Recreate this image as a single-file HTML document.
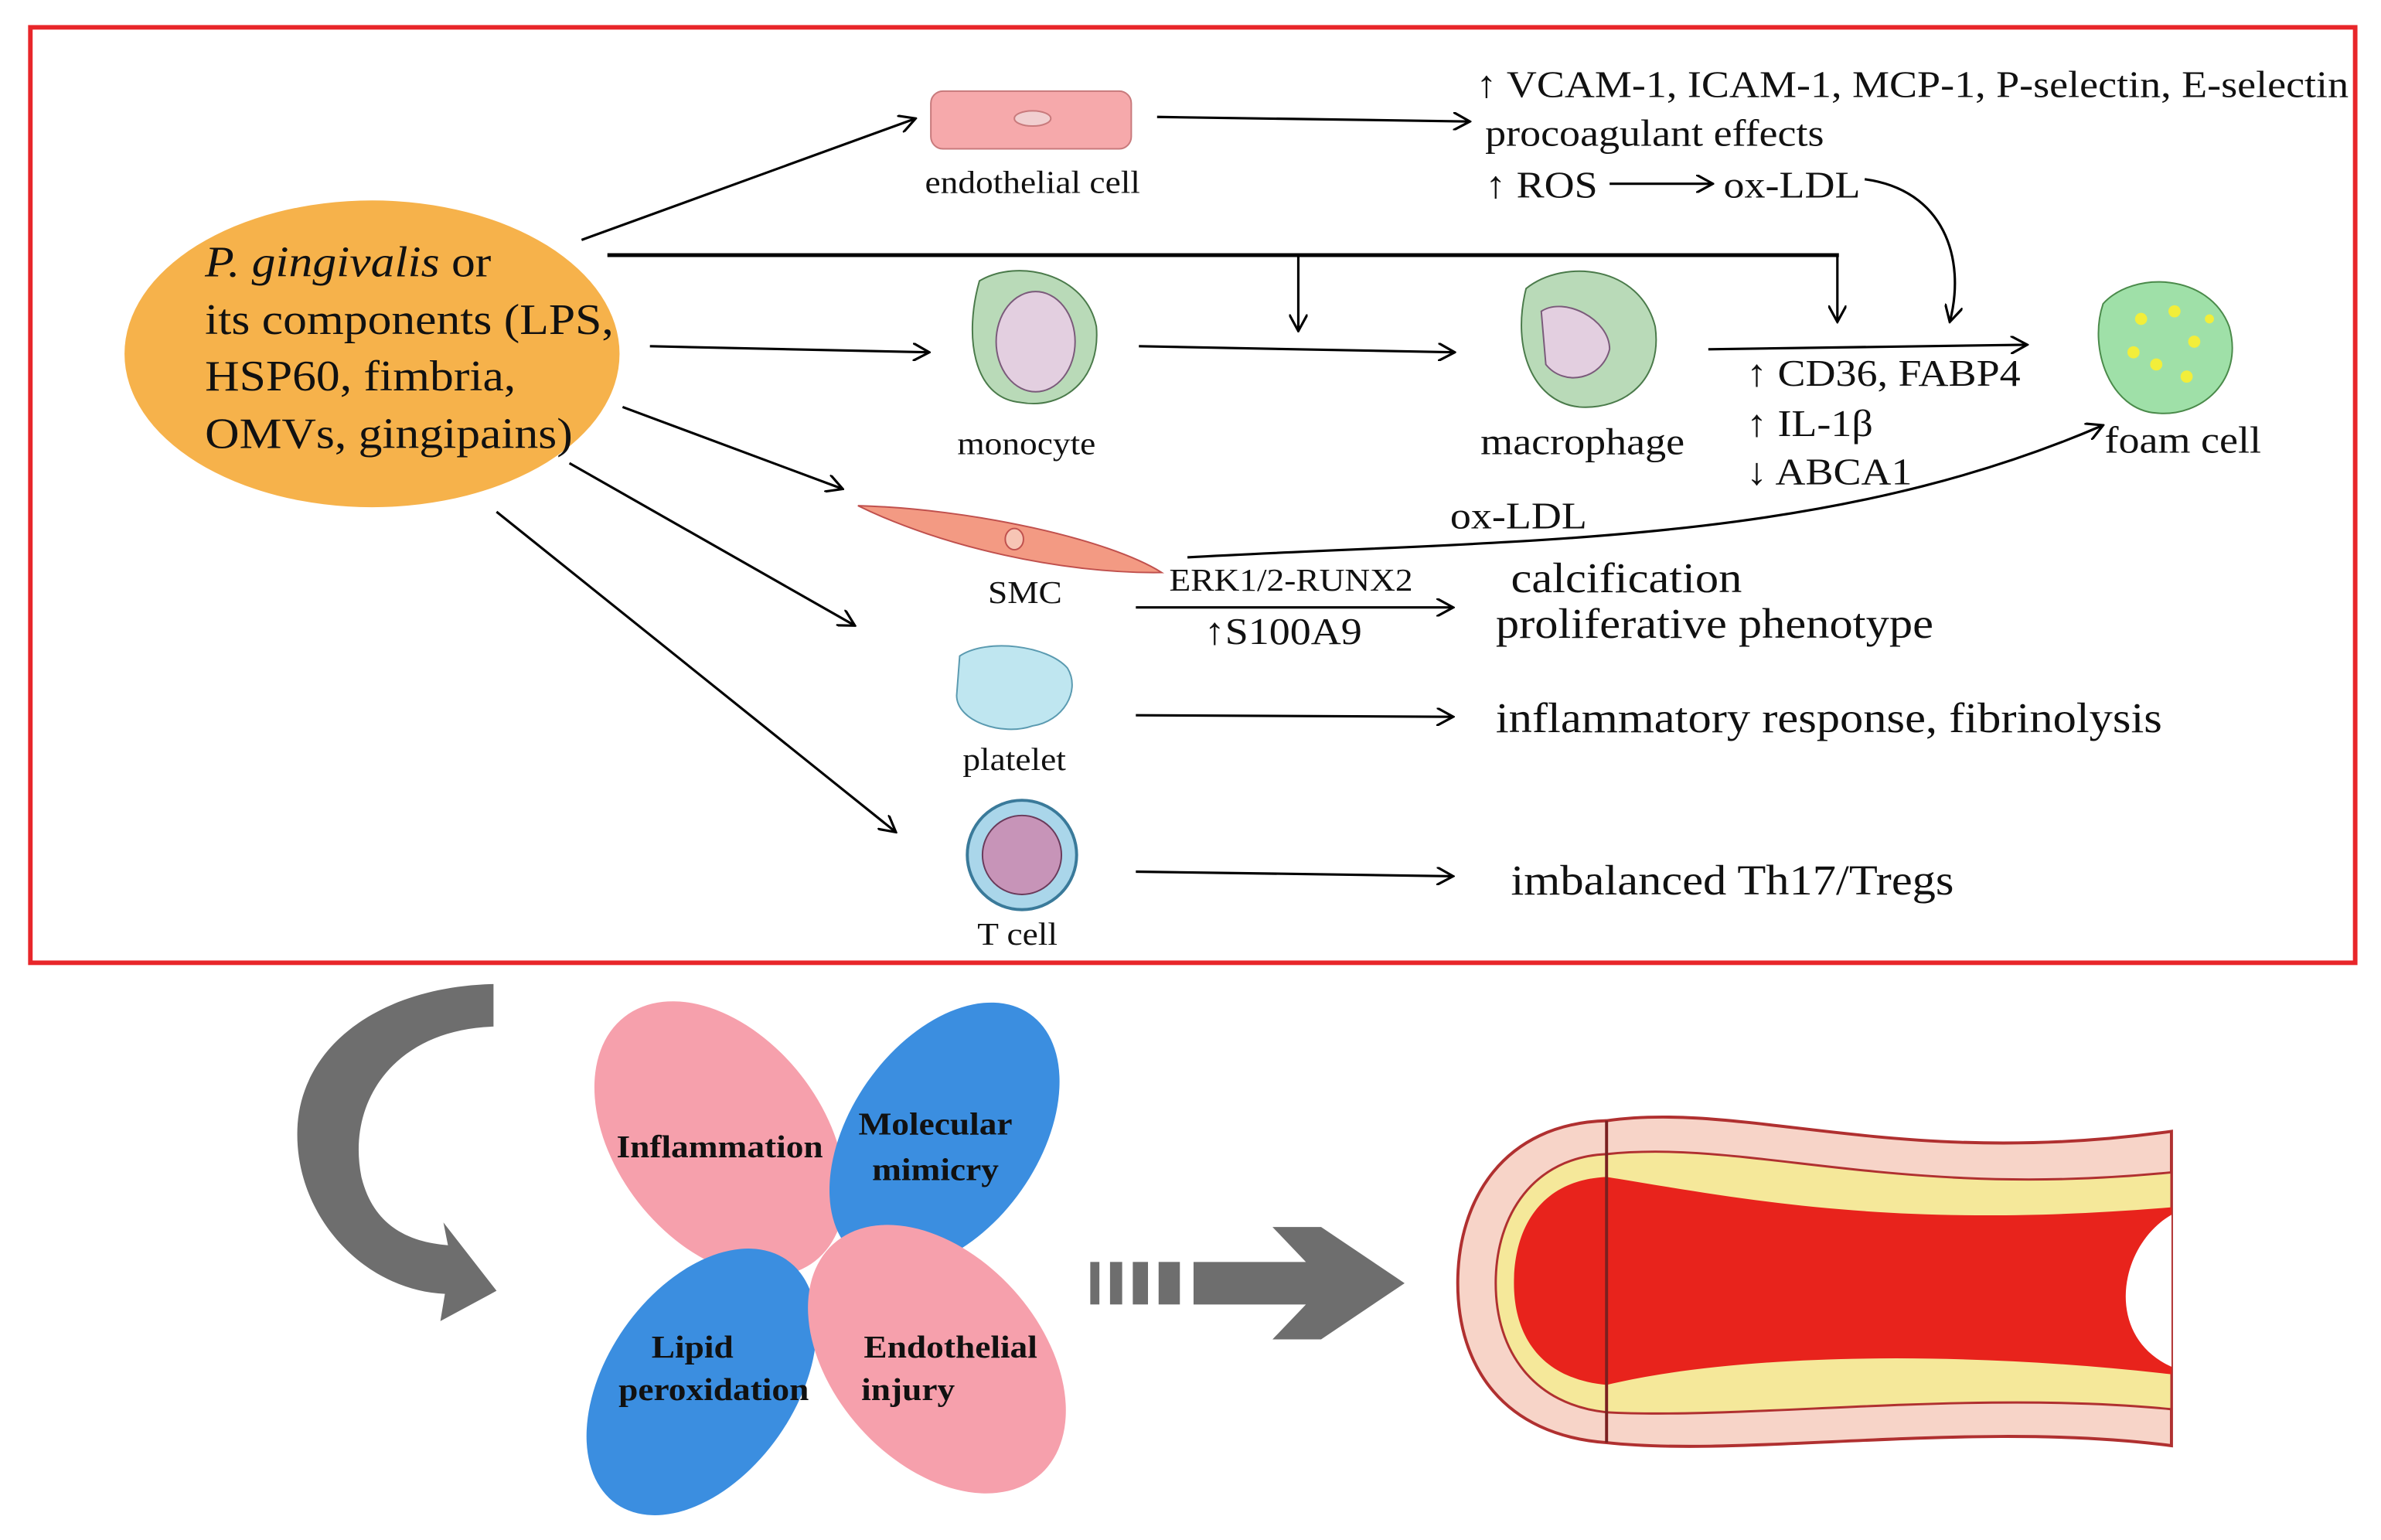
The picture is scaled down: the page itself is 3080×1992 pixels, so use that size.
<!DOCTYPE html>
<html><head><meta charset="utf-8"><style>
html,body{margin:0;padding:0;background:#fff}
#w{position:absolute;left:0;top:0;width:1568px;height:1014px;transform:scale(1.96429);transform-origin:0 0}
svg{position:absolute;left:0;top:0}
.t{position:absolute;font-family:"Liberation Serif",serif;color:#111;line-height:1;white-space:nowrap;transform:scaleX(1.1);transform-origin:0 0}
.c{transform:translateX(-50%) scaleX(1.1);transform-origin:50% 0}
.s20{font-size:21px}.s24{font-size:25px}.s26{font-size:28px}.s27{font-size:28.5px}
.b{font-weight:bold;font-size:21px}
</style></head><body>
<div id="w">
<svg width="1568" height="1014" viewBox="0 0 1568 1014" xmlns="http://www.w3.org/2000/svg">
<defs>
<marker id="a" markerWidth="12" markerHeight="12" refX="11" refY="6" orient="auto" markerUnits="userSpaceOnUse"><path d="M0,0 L11,6 L0,12" fill="none" stroke="#000" stroke-width="1.6"/></marker>
</defs>
<rect x="20" y="18" width="1531" height="616" fill="none" stroke="#e8262a" stroke-width="3"/>
<ellipse cx="245" cy="233" rx="163" ry="101" fill="#f6b24b"/>
<g stroke="#000" stroke-width="1.6" fill="none" marker-end="url(#a)">
<line x1="383" y1="158" x2="603" y2="78"/>
<line x1="762" y1="77" x2="968" y2="80"/>
<line x1="1060" y1="121" x2="1128" y2="121"/>
<path d="M1228,118 C1280,125 1295,170 1284,212"/>
<line x1="855" y1="168" x2="855" y2="218"/>
<line x1="1210" y1="168" x2="1210" y2="212"/>
<line x1="428" y1="228" x2="612" y2="232"/>
<line x1="750" y1="228" x2="958" y2="232"/>
<line x1="1125" y1="230" x2="1335" y2="227"/>
<path d="M782,367 C1000,355 1200,360 1385,280"/>
<line x1="410" y1="268" x2="555" y2="322"/>
<line x1="375" y1="305" x2="563" y2="412"/>
<line x1="327" y1="337" x2="590" y2="548"/>
<line x1="748" y1="400" x2="957" y2="400"/>
<line x1="748" y1="471" x2="957" y2="472"/>
<line x1="748" y1="574" x2="957" y2="577"/>
</g>
<line x1="400" y1="168" x2="1211" y2="168" stroke="#000" stroke-width="2.5"/>
<rect x="613" y="60" width="132" height="38" rx="8" fill="#f6a9ab" stroke="#c87a7c"/>
<ellipse cx="680" cy="78" rx="12" ry="5" fill="#f1cfd0" stroke="#c87a7c"/>
<path d="M645,185 C670,170 715,180 722,215 C725,250 700,270 672,265 C640,262 635,220 645,185Z" fill="#b9dab8" stroke="#4a7a4a"/>
<ellipse cx="682" cy="225" rx="26" ry="33" fill="#e3cfe0" stroke="#7a5a7a"/>
<path d="M1005,190 C1030,170 1080,175 1090,215 C1095,250 1070,270 1040,268 C1010,265 995,230 1005,190Z" fill="#b9dab8" stroke="#4a7a4a"/>
<path d="M1015,205 C1030,195 1060,210 1060,230 C1055,250 1030,255 1018,240Z" fill="#e3cfe0" stroke="#7a5a7a"/>
<path d="M1385,200 C1405,178 1455,180 1468,215 C1478,250 1450,275 1420,272 C1390,270 1375,230 1385,200Z" fill="#9fe0a8" stroke="#4a8a4a"/>
<g fill="#f2ee3a"><circle cx="1410" cy="210" r="4"/><circle cx="1432" cy="205" r="4"/><circle cx="1445" cy="225" r="4"/><circle cx="1420" cy="240" r="4"/><circle cx="1440" cy="248" r="4"/><circle cx="1405" cy="232" r="4"/><circle cx="1455" cy="210" r="3"/></g>
<path d="M565,333 C640,335 730,355 765,377 C700,378 620,360 565,333Z" fill="#f39a83" stroke="#c0504d"/>
<ellipse cx="668" cy="355" rx="6" ry="7" fill="#f7c5b5" stroke="#c0504d"/>
<path d="M632,432 C650,420 690,425 703,440 C712,455 700,475 680,478 C660,485 630,475 630,458Z" fill="#bfe6f0" stroke="#5a9ab0"/>
<circle cx="673" cy="563" r="36" fill="#aad6ea" stroke="#3a7a9a" stroke-width="2"/>
<circle cx="673" cy="563" r="26" fill="#c794b8" stroke="#6a3a5a"/>
<path d="M325,648 L325,676 C260,678 228,725 238,775 C246,808 270,818 295,820 L292,805 L327,850 L290,870 L293,852 C240,850 192,800 196,740 C200,688 250,650 325,648Z" fill="#6e6e6e"/>
<ellipse cx="474" cy="750" rx="68" ry="102" transform="rotate(-38 474 750)" fill="#f6a0ac"/>
<ellipse cx="622" cy="748" rx="62" ry="98" transform="rotate(35 622 748)" fill="#3b8ee0"/>
<ellipse cx="462" cy="910" rx="62" ry="98" transform="rotate(35 462 910)" fill="#3b8ee0"/>
<ellipse cx="617" cy="895" rx="68" ry="102" transform="rotate(-42 617 895)" fill="#f6a0ac"/>
<g fill="#6e6e6e">
<rect x="718" y="831" width="6" height="28"/><rect x="731" y="831" width="8" height="28"/><rect x="746" y="831" width="10" height="28"/><rect x="763" y="831" width="14" height="28"/>
<path d="M786,831 L860,831 L838,808 L870,808 L925,845 L870,882 L838,882 L860,859 L786,859Z"/>
</g>
<path d="M1058,738 C1150,725 1250,770 1430,745 L1430,952 C1300,935 1150,960 1058,950 C990,945 960,900 960,845 C960,790 990,740 1058,738Z" fill="#f7d4c8" stroke="#b03030" stroke-width="2"/>
<path d="M1058,760 C1150,750 1250,790 1430,772 L1430,928 C1300,915 1150,935 1058,930 C1010,925 985,890 985,845 C985,800 1010,762 1058,760Z" fill="#f5e89a" stroke="#b03030" stroke-width="1.5"/>
<path d="M1058,775 C1150,790 1250,810 1430,795 L1430,905 C1300,890 1150,890 1058,912 C1015,908 997,880 997,845 C997,808 1015,777 1058,775Z" fill="#e8231c"/>
<path d="M1430,800 C1395,820 1385,880 1430,900Z" fill="#fff"/>
<line x1="1058" y1="738" x2="1058" y2="950" stroke="#7a2020" stroke-width="2"/>
</svg>

<div class="t s27" style="left:135px;top:160px"><i>P. gingivalis</i> or</div>
<div class="t s27" style="left:135px;top:198px">its components (LPS,</div>
<div class="t s27" style="left:135px;top:235px">HSP60, fimbria,</div>
<div class="t s27" style="left:135px;top:273px">OMVs, gingipains)</div>

<div class="t s20 c" style="left:680px;top:110px">endothelial cell</div>
<div class="t s20 c" style="left:676px;top:282px">monocyte</div>
<div class="t s20 c" style="left:675px;top:380px">SMC</div>
<div class="t s20 c" style="left:668px;top:490px">platelet</div>
<div class="t s20 c" style="left:670px;top:605px">T cell</div>

<div class="t s24" style="left:972px;top:44px">↑ VCAM-1, ICAM-1, MCP-1, P-selectin, E-selectin</div>
<div class="t s24" style="left:978px;top:76px">procoagulant effects</div>
<div class="t s24" style="left:978px;top:110px">↑ ROS</div>
<div class="t s24" style="left:1135px;top:110px">ox-LDL</div>
<div class="t s24" style="left:975px;top:279px">macrophage</div>
<div class="t s24" style="left:1386px;top:278px">foam cell</div>
<div class="t s24" style="left:1150px;top:234px">↑ CD36, FABP4</div>
<div class="t s24" style="left:1150px;top:267px">↑ IL-1β</div>
<div class="t s24" style="left:1150px;top:299px">↓ ABCA1</div>
<div class="t s24" style="left:955px;top:328px">ox-LDL</div>
<div class="t s24" style="left:793px;top:404px">↑S100A9</div>
<div class="t s20" style="left:770px;top:372px">ERK1/2-RUNX2</div>

<div class="t s26" style="left:995px;top:368px">calcification</div>
<div class="t s26" style="left:985px;top:398px">proliferative phenotype</div>
<div class="t s26" style="left:985px;top:460px">inflammatory response, fibrinolysis</div>
<div class="t s26" style="left:995px;top:567px">imbalanced Th17/Tregs</div>

<div class="t b c" style="left:474px;top:745px">Inflammation</div>
<div class="t b c" style="left:616px;top:730px">Molecular</div>
<div class="t b c" style="left:616px;top:760px">mimicry</div>
<div class="t b c" style="left:456px;top:877px">Lipid</div>
<div class="t b c" style="left:470px;top:905px">peroxidation</div>
<div class="t b c" style="left:626px;top:877px">Endothelial</div>
<div class="t b c" style="left:598px;top:905px">injury</div>
</div>
</body></html>
